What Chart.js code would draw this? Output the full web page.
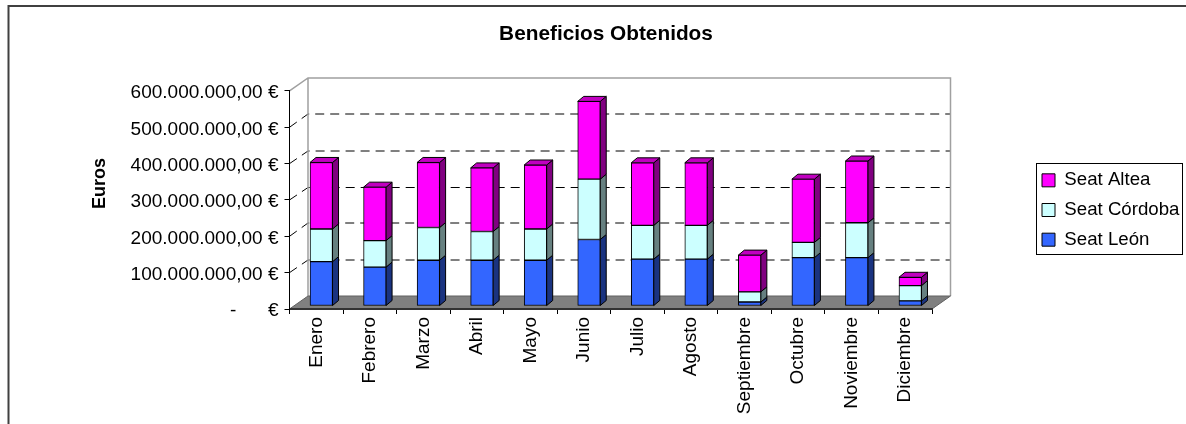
<!DOCTYPE html>
<html>
<head>
<meta charset="utf-8">
<title>Beneficios Obtenidos</title>
<script src="https://cdn.jsdelivr.net/npm/chart.js@4"></script>
<style>
  html,body{margin:0;padding:0;background:#fff;overflow:hidden}
  canvas{display:block}
</style>
</head>
<body>
<canvas id="chart" width="1186" height="424"></canvas>
<script>
// Datos
const meses = ['Enero','Febrero','Marzo','Abril','Mayo','Junio','Julio','Agosto','Septiembre','Octubre','Noviembre','Diciembre'];
const seatLeon    = [122000000,107000000,126000000,126000000,126000000,183000000,129000000,129000000,11000000,133000000,133000000,14000000];
const seatCordoba = [90000000,73000000,90000000,79000000,86000000,166000000,93000000,93000000,28000000,42000000,96000000,42000000];
const seatAltea   = [183000000,147000000,179000000,175000000,176000000,214000000,172000000,172000000,101000000,174000000,170000000,23000000];
const yEtiquetas  = ['-      €','100.000.000,00 €','200.000.000,00 €','300.000.000,00 €','400.000.000,00 €','500.000.000,00 €','600.000.000,00 €'];

const FONT = '"Liberation Sans", Arial, sans-serif';
const PLOT_LEFT = 289.5, PLOT_RIGHT = 932;
// profundidad de la caja y de las barras
const WALL_DX = 18.5, WALL_DY = 13;
const BAR_SHIFT_X = 5, BAR_SHIFT_Y = -3;
const BAR_DX = 6, BAR_DY = 5;

const sideColors = ['#1a3380','#668080','#800080'];
const topColor = '#c000c0';

// desplaza lo que dibuja un metodo de la escala
function nudge(scale, method, dx, dy) {
  if (scale['_n_'+method]) return;
  scale['_n_'+method] = true;
  const orig = scale[method];
  scale[method] = function(...args) {
    const ctx = this.ctx;
    ctx.save(); ctx.translate(dx,dy);
    orig.apply(this,args);
    ctx.restore();
  };
}

// ── Caja 3D: paredes, rejilla y suelo ───────────────────────────────────────
const box3d = {
  id:'box3d',
  beforeDraw(chart) {
    const {ctx, scales:{x,y}} = chart;
    const l=x.left, r=x.right, t=y.getPixelForValue(600000000), b=y.getPixelForValue(0);
    ctx.save();
    // marco
    ctx.strokeStyle='#404040'; ctx.lineWidth=2;
    ctx.beginPath(); ctx.moveTo(8.5,424); ctx.lineTo(8.5,6); ctx.lineTo(1186,6); ctx.stroke();
    // rejilla
    ctx.strokeStyle='#000'; ctx.lineWidth=1; ctx.setLineDash([9,6]);
    y.ticks.forEach(tk=>{
      if (tk.value===0 || tk.value===600000000) return;
      const py=y.getPixelForValue(tk.value);
      // la de 300 M sale nitida, las demas caen entre dos pixeles
      const gy=Math.round(py-WALL_DY)+(tk.value===300000000?0.5:0);
      ctx.beginPath(); ctx.moveTo(l,py); ctx.lineTo(l+WALL_DX,gy); ctx.lineTo(r+WALL_DX,gy); ctx.stroke();
    });
    ctx.setLineDash([]);
    // paredes
    ctx.strokeStyle='#a0a0a0'; ctx.lineWidth=1.5;
    ctx.beginPath();
    ctx.moveTo(l,t); ctx.lineTo(l+WALL_DX,t-WALL_DY); ctx.lineTo(r+WALL_DX,t-WALL_DY); ctx.lineTo(r+WALL_DX,b-WALL_DY);
    ctx.moveTo(l+WALL_DX,t-WALL_DY); ctx.lineTo(l+WALL_DX,b-WALL_DY);
    ctx.stroke();
    // suelo
    ctx.lineWidth=1;
    ctx.fillStyle='#808080';
    ctx.beginPath();
    ctx.moveTo(l,b); ctx.lineTo(l+WALL_DX,b-WALL_DY); ctx.lineTo(r+WALL_DX,b-WALL_DY); ctx.lineTo(r,b);
    ctx.closePath(); ctx.fill();
    ctx.strokeStyle='#606060'; ctx.stroke();
    // recuadro de la leyenda
    ctx.strokeStyle='#000';
    ctx.strokeRect(1036.5,163.5,146,91);
    ctx.restore();
  },
  beforeDatasetsDraw(chart) {
    const {ctx} = chart;
    ctx.save();
    ctx.translate(BAR_SHIFT_X,BAR_SHIFT_Y);
    ctx.lineWidth=1; ctx.strokeStyle='#000';
    const last=chart.data.datasets.length-1;
    chart.data.datasets.forEach((ds,di)=>{
      chart.getDatasetMeta(di).data.forEach(bar=>{
        const {x,y,base,width}=bar.getProps(['x','y','base','width'],true);
        const xr=x+width/2, xl=x-width/2;
        ctx.fillStyle=sideColors[di];
        ctx.beginPath();
        ctx.moveTo(xr,y); ctx.lineTo(xr+BAR_DX,y-BAR_DY); ctx.lineTo(xr+BAR_DX,base-BAR_DY); ctx.lineTo(xr,base);
        ctx.closePath(); ctx.fill(); ctx.stroke();
        if (di===last) {
          ctx.fillStyle=topColor;
          ctx.beginPath();
          ctx.moveTo(xl,y); ctx.lineTo(xl+BAR_DX,y-BAR_DY); ctx.lineTo(xr+BAR_DX,y-BAR_DY); ctx.lineTo(xr,y);
          ctx.closePath(); ctx.fill(); ctx.stroke();
        }
      });
    });
  },
  afterDatasetsDraw(chart) { chart.ctx.restore(); },
  afterLayout(chart) {
    // leyenda y titulo van fuera de donde los pone el layout
    const lg=chart.legend;
    const w=lg.width;
    lg.left=1031; lg.right=1031+w;
    lg.top=160;
    const tb=chart.titleBlock;
    tb.left=606-593; tb.right=606+593;
    nudge(chart.scales.y,'drawTitle',0,-16.5);
    nudge(chart.scales.y,'drawLabels',0,2);
  },
};

const chart = new Chart(document.getElementById('chart'), {
  type:'bar',
  plugins:[box3d],
  data:{
    labels:meses,
    datasets:[
      { label:'Seat León',    data:seatLeon,    backgroundColor:'#3366ff' },
      { label:'Seat Córdoba', data:seatCordoba, backgroundColor:'#ccffff' },
      { label:'Seat Altea',   data:seatAltea,   backgroundColor:'#ff00ff' },
    ].map(d=>({...d, borderColor:'#000', borderWidth:1, borderSkipped:false, barThickness:22.5, clip:false})),
  },
  options:{
    responsive:false, animation:false, devicePixelRatio:1,
    layout:{ padding:{left:89,right:100,top:0,bottom:0} },
    plugins:{
      title:{ display:true, text:'Beneficios Obtenidos', color:'#000',
        font:{family:FONT,size:20.8,weight:'bold'}, padding:{top:21.5,bottom:44.5} },
      legend:{ position:'right', align:'start', reverse:true,
        labels:{ color:'#000', font:{family:FONT,size:18.67}, boxWidth:13, boxHeight:13, padding:11 } },
      tooltip:{enabled:false},
    },
    scales:{
      x:{ stacked:true,
        grid:{ offset:true, drawOnChartArea:false, drawTicks:true, tickLength:5, color:'#000' },
        border:{ color:'#333', width:2 },
        ticks:{ color:'#000', font:{family:FONT,size:19}, minRotation:90, maxRotation:90, autoSkip:false, padding:3 },
        afterFit(s){ s.height=424-309; },
      },
      y:{ stacked:true, min:0, max:600000000,
        grid:{ drawOnChartArea:false, drawTicks:true, tickLength:5, color:'#000' },
        border:{ color:'#000' },
        title:{ display:true, text:'Euros', color:'#000', font:{family:FONT,size:18,weight:'bold'}, padding:0 },
        ticks:{ stepSize:100000000, color:'#000', font:{family:FONT,size:19}, padding:6,
          callback:v=>yEtiquetas[v/100000000] },
        afterFit(s){ s.width=PLOT_LEFT-89; },
      },
    },
  },
});
// ajusta el margen derecho para que el eje acabe donde toca
chart.options.layout.padding.right += chart.chartArea.right-PLOT_RIGHT;
chart.update();
</script>
</body>
</html>
